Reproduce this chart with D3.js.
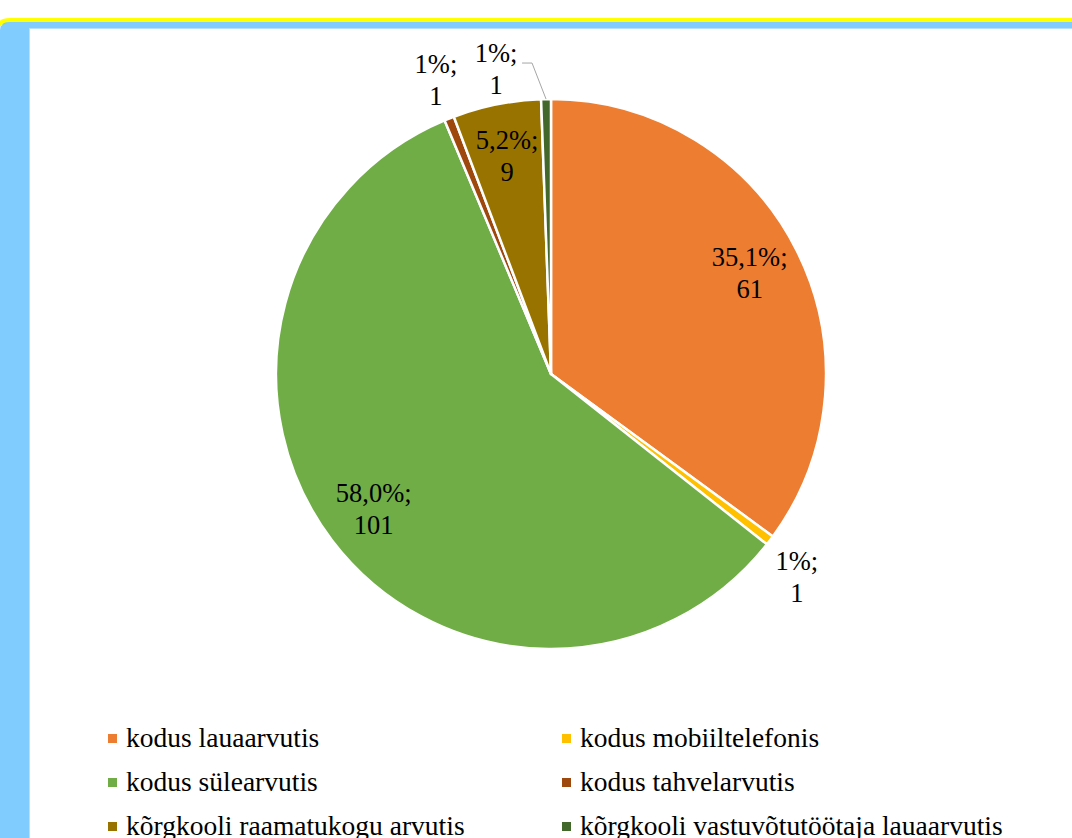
<!DOCTYPE html>
<html>
<head>
<meta charset="utf-8">
<script src="https://cdn.jsdelivr.net/npm/d3@7"></script>
<style>
  body { margin: 0; background: #fff; }
  svg { display: block; }
  svg text { font-family: "Liberation Serif", "DejaVu Serif", serif; }
</style>
</head>
<body>
<div id="chart"></div>
<script>
// data
const categories = [
  "kodus lauaarvutis",
  "kodus mobiiltelefonis",
  "kodus sülearvutis",
  "kodus tahvelarvutis",
  "kõrgkooli raamatukogu arvutis",
  "kõrgkooli vastuvõtutöötaja lauaarvutis"
];
const counts = [61, 1, 101, 1, 9, 1];
const percentLabels = ["35,1%", "1%", "58,0%", "1%", "5,2%", "1%"];
const colors = ["#ED7D31", "#FFC000", "#70AD47", "#9E480E", "#997300", "#43682B"];

const data = categories.map((c, i) => ({ name: c, count: counts[i], pct: percentLabels[i] }));

function drawPie(data) {
  let width = 1072, height = 838;
  let cx = 551, cy = 374, r = 275;

  var svg = d3.select("#chart").append("svg")
    .attr("width", width)
    .attr("height", height);

  // slide frame: blue band, yellow rule, white panel
  svg.append("path")
    .attr("d", "M0," + height + " L0,30 Q0,21 10,21 L" + width + ",21 L" + width + "," + height + " Z")
    .attr("fill", "#80CCFF");
  svg.append("path")
    .attr("d", "M0,26 Q0,20 10,20 L" + width + ",20")
    .attr("fill", "none")
    .attr("stroke", "#FFFF00")
    .attr("stroke-width", 4);
  svg.append("rect")
    .attr("x", 29.5).attr("y", 28.5)
    .attr("width", width - 29).attr("height", height - 28)
    .attr("fill", "#fff")
    .attr("stroke", "#B5E0FF")
    .attr("stroke-width", 1);

  var color = d3.scaleOrdinal().domain(categories).range(colors);
  var pie = d3.pie().sort(null).value(function (d) { return d.count; });
  var arc = d3.arc().innerRadius(0).outerRadius(r);
  var inLabel = d3.arc().innerRadius(r * 0.81).outerRadius(r * 0.81);
  var outLabel = d3.arc().innerRadius(r * 1.15).outerRadius(r * 1.15);
  var rim = d3.arc().innerRadius(r).outerRadius(r);

  var arcs = pie(data);
  var g = svg.append("g").attr("transform", "translate(" + cx + "," + cy + ")");

  g.selectAll("path.slice")
    .data(arcs)
    .enter().append("path")
    .attr("class", "slice")
    .attr("d", arc)
    .attr("fill", function (d) { return color(d.data.name); })
    .attr("stroke", "#fff")
    .attr("stroke-width", 2.5)
    .attr("stroke-linejoin", "round");

  // label centres: big slices inside, thin ones outside
  arcs.forEach(function (d, i) {
    var big = (d.endAngle - d.startAngle) > 0.2;
    var p = big ? inLabel.centroid(d) : outLabel.centroid(d);
    if (!big && i === arcs.length - 1) {
      // last sliver: label pushed left, joined by a leader line
      var q = rim.centroid(d);
      p = [q[0] - 50, q[1] - 30];
      g.append("polyline")
        .attr("points", [[p[0] + 26, p[1] - 6], [p[0] + 36, p[1] - 6], q].map(function (a) { return a.join(","); }).join(" "))
        .attr("fill", "none")
        .attr("stroke", "#A6A6A6")
        .attr("stroke-width", 1);
    } else if (!big && p[1] > 0) {
      p = [p[0] - 6, p[1] + 12];
    } else if (!big) {
      p = [p[0] + 2, p[1]];
    }
    var t = g.append("text")
      .attr("text-anchor", "middle")
      .style("font-size", "26.5px")
      .attr("fill", "#000");
    t.append("tspan").attr("x", p[0]).attr("y", p[1] - 7).text(d.data.pct + ";");
    t.append("tspan").attr("x", p[0]).attr("y", p[1] + 25).text(d.data.count);
  });

  // legend, two columns
  var legend = svg.append("g").attr("class", "legend");
  var items = legend.selectAll("g")
    .data(data)
    .enter().append("g")
    .attr("transform", function (d, i) {
      return "translate(" + (i % 2 === 0 ? 108 : 562) + "," + (747 + Math.floor(i / 2) * 44) + ")";
    });
  items.append("rect")
    .attr("x", 0).attr("y", -13)
    .attr("width", 9).attr("height", 9)
    .attr("fill", function (d) { return color(d.name); });
  items.append("text")
    .attr("x", 18).attr("y", 0)
    .style("font-size", "27.5px")
    .attr("fill", "#000")
    .text(function (d) { return d.name; });
}

drawPie(data);
</script>
</body>
</html>
